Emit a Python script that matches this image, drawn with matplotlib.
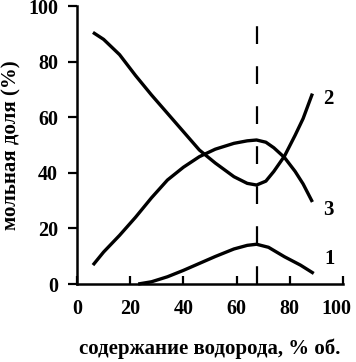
import matplotlib
matplotlib.use("Agg")
import matplotlib.pyplot as plt
from matplotlib.transforms import ScaledTranslation

# curve 1
x1 = [23, 28, 34, 40, 46, 52, 59, 64, 67.5, 72, 78, 84, 89]
y1 = [0, 0.8, 2.6, 4.9, 7.4, 9.9, 12.6, 13.9, 14.3, 13.2, 9.8, 6.8, 3.8]
# curve 2
x2 = [6, 10, 16, 22, 28, 34, 40, 46, 52, 59, 64, 67.5, 71, 74, 78, 82, 85, 88.5]
y2 = [90.5, 88, 82.5, 75, 68, 61.4, 54.8, 48.2, 43.5, 38.6, 36.2, 35.6, 37, 40.5, 46, 53.5, 59.5, 68.5]
# curve 3
x3 = [6, 10, 16, 22, 28, 34, 40, 46, 52, 59, 64, 67.5, 71, 74, 78, 82, 85, 88.5]
y3 = [6.8, 11.5, 17.5, 24, 31, 37.4, 42, 45.8, 48.5, 50.6, 51.5, 51.8, 51, 49, 45.5, 40.5, 36, 29.5]
vline_x = 67.5

labels = ["1", "2", "3"]
label_pos = [(93, 9), (92.5, 66.5), (92.5, 26.5)]

xticks = [0, 20, 40, 60, 80, 100]
yticks = [0, 20, 40, 60, 80, 100]

fig = plt.figure(figsize=(3.56, 3.62), dpi=100)
ax = fig.add_axes([77/356, 1 - 284/362, 266/356, 278/362])
serif = ["Liberation Serif", "DejaVu Serif"]

for x, y in [(x1, y1), (x2, y2), (x3, y3)]:
    ax.plot(x, y, color="black", lw=2.4, solid_capstyle="butt", clip_on=False)
ax.axvline(vline_x, ymin=0, ymax=0.955, color="black", lw=1.6, dashes=(8, 10))

for lab, (lx, ly) in zip(labels, label_pos):
    ax.text(lx, ly, lab, fontsize=15, family=serif, fontweight="bold",
            ha="left", va="center", clip_on=False)

ax.set_xlim(0, 100)
ax.set_ylim(0, 100)
ax.set_xticks(xticks)
ax.set_yticks(yticks)
ax.spines["top"].set_visible(False)
ax.spines["right"].set_visible(False)
ax.spines["left"].set_linewidth(1.8)
ax.spines["bottom"].set_linewidth(1.8)
ax.tick_params(axis="x", direction="in", length=6, width=1.6, pad=11)
ax.tick_params(axis="y", direction="out", length=6.5, width=1.6, pad=7)
for t in ax.get_xticklabels() + ax.get_yticklabels():
    t.set_fontfamily(serif)
    t.set_fontsize(14.5)
    t.set_fontweight("bold")

# shift the last x tick label slightly left so it stays inside the figure
last = ax.xaxis.get_major_ticks()[-1].label1
last.set_transform(last.get_transform() + ScaledTranslation(-7/100, 0, fig.dpi_scale_trans))

ax.set_xlabel("содержание водорода, % об.", fontsize=15, family=serif,
              fontweight="bold", labelpad=14)
ax.set_ylabel("мольная доля (%)", fontsize=15, family=serif,
              fontweight="bold", labelpad=5)

fig.savefig("out.png", dpi=100)
